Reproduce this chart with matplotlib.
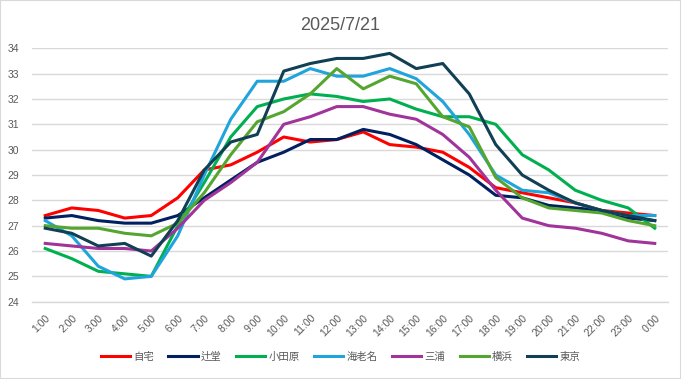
import matplotlib
matplotlib.use("Agg")
import matplotlib.pyplot as plt
from matplotlib.patches import Rectangle

plt.rcParams['font.family'] = ['Liberation Sans', 'Noto Sans CJK JP', 'DejaVu Sans']

hours = ["1:00", "2:00", "3:00", "4:00", "5:00", "6:00", "7:00", "8:00", "9:00", "10:00",
         "11:00", "12:00", "13:00", "14:00", "15:00", "16:00", "17:00", "18:00", "19:00",
         "20:00", "21:00", "22:00", "23:00", "0:00"]

jitaku = [27.4, 27.7, 27.6, 27.3, 27.4, 28.1, 29.2, 29.4, 29.9, 30.5, 30.3, 30.4,
          30.7, 30.2, 30.1, 29.9, 29.3, 28.5, 28.3, 28.1, 27.9, 27.6, 27.5, 27.4]
tsujido = [27.3, 27.4, 27.2, 27.1, 27.1, 27.4, 28.1, 28.8, 29.5, 29.9, 30.4, 30.4,
           30.8, 30.6, 30.2, 29.6, 29.0, 28.2, 28.1, 27.8, 27.7, 27.6, 27.3, 27.2]
odawara = [26.1, 25.7, 25.2, 25.1, 25.0, 27.0, 28.7, 30.5, 31.7, 32.0, 32.2, 32.1,
           31.9, 32.0, 31.6, 31.3, 31.3, 31.0, 29.8, 29.2, 28.4, 28.0, 27.7, 26.9]
ebina = [27.2, 26.6, 25.4, 24.9, 25.0, 26.6, 29.0, 31.2, 32.7, 32.7, 33.2, 32.9,
         32.9, 33.2, 32.8, 31.9, 30.6, 29.0, 28.4, 28.3, 27.9, 27.6, 27.4, 27.4]
miura = [26.3, 26.2, 26.1, 26.1, 26.0, 26.9, 28.0, 28.7, 29.5, 31.0, 31.3, 31.7,
         31.7, 31.4, 31.2, 30.6, 29.7, 28.4, 27.3, 27.0, 26.9, 26.7, 26.4, 26.3]
yokohama = [27.0, 26.9, 26.9, 26.7, 26.6, 27.1, 28.3, 29.8, 31.1, 31.5, 32.2, 33.2,
            32.4, 32.9, 32.6, 31.3, 30.9, 28.9, 28.1, 27.7, 27.6, 27.5, 27.2, 27.0]
tokyo = [26.9, 26.7, 26.2, 26.3, 25.8, 27.2, 29.2, 30.3, 30.6, 33.1, 33.4, 33.6,
         33.6, 33.8, 33.2, 33.4, 32.2, 30.2, 29.0, 28.4, 27.9, 27.6, 27.4, 27.2]

series_names = ["自宅", "辻堂", "小田原", "海老名", "三浦", "横浜", "東京"]
series_values = [jitaku, tsujido, odawara, ebina, miura, yokohama, tokyo]
series_colors = ["#FF0000", "#002060", "#00B050", "#20A4DC", "#A1349A", "#55A630", "#113F54"]

title = "2025/7/21"
yticks = list(range(24, 35))

text_color = "#595959"
grid_color = "#D9D9D9"

fig = plt.figure(figsize=(6.81, 3.79), dpi=100)
ax = fig.add_axes([32 / 681, (379 - 301.7) / 379, 636 / 681, 253.4 / 379])

x = list(range(len(hours)))
for name, vals, col in zip(series_names, series_values, series_colors):
    ax.plot(x, vals, color=col, linewidth=2.2, label=name, solid_joinstyle='round')

ax.set_xlim(-0.5, len(hours) - 0.5)
ax.set_ylim(24, 34)
ax.set_yticks(yticks)
ax.set_yticklabels([str(v) for v in yticks])
ax.set_xticks(x)
ax.set_xticklabels(hours, rotation=45, ha='right', rotation_mode='anchor')

ax.grid(axis='y', color=grid_color, linewidth=1.0)
ax.set_axisbelow(True)
for s in ['top', 'right', 'left']:
    ax.spines[s].set_visible(False)
ax.spines['bottom'].set_color(grid_color)
ax.spines['bottom'].set_linewidth(1.0)
ax.tick_params(axis='both', length=0, colors=text_color, labelsize=7.5)
ax.tick_params(axis='y', pad=9)
ax.tick_params(axis='x', pad=8)
for lbl in ax.get_xticklabels():
    lbl.set_x(lbl.get_position()[0])

fig.text(0.5, 1 - 25 / 379, title, ha='center', va='center', fontsize=13, color=text_color)

leg = fig.legend(loc='center', bbox_to_anchor=(0.5, 1 - 357 / 379), ncol=7, frameon=False,
                 fontsize=7.5, handlelength=2.8, columnspacing=1.4, handletextpad=0.3)
for t in leg.get_texts():
    t.set_color(text_color)

fig.patches.append(Rectangle((0, 0), 1, 1, transform=fig.transFigure, fill=False,
                             edgecolor=grid_color, linewidth=1.5))

fig.savefig("out.png", dpi=100, facecolor="white")
